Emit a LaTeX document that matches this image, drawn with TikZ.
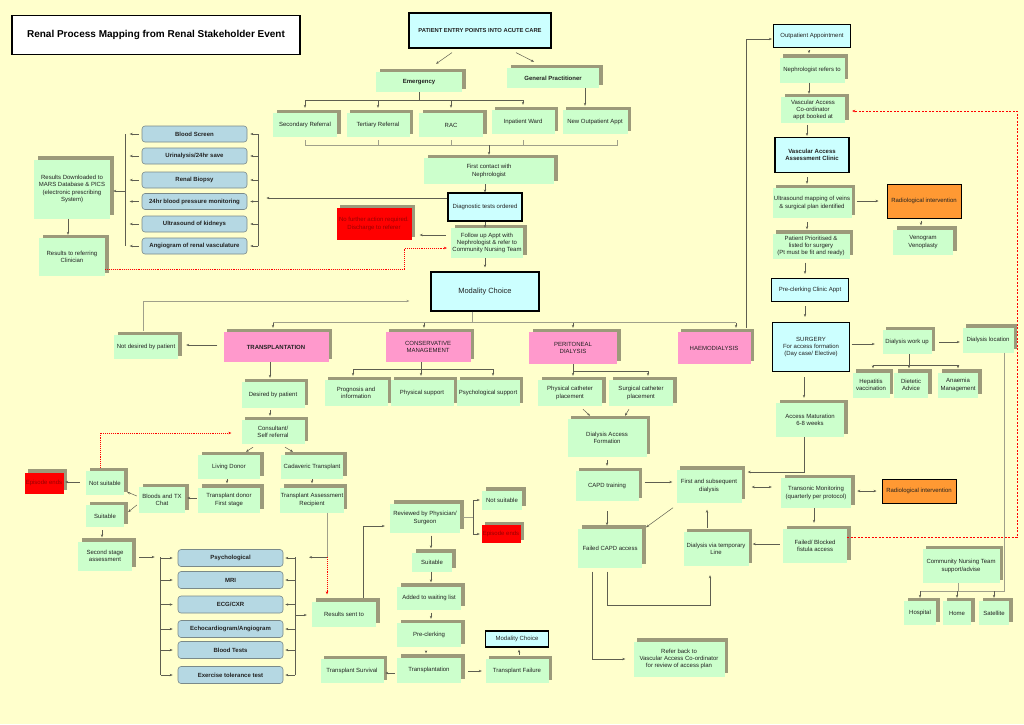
\documentclass[tikz,border=0pt]{standalone}
\usepackage{fontspec}
\setmainfont{Liberation Sans}
\usetikzlibrary{arrows.meta,shadows,calc}
\definecolor{bgc}{HTML}{FFFFCC}
\definecolor{grn}{HTML}{CCFFCC}
\definecolor{shd}{HTML}{9C9A7A}
\definecolor{cyb}{HTML}{CCFFFF}
\definecolor{pnk}{HTML}{FF99CC}
\definecolor{rdb}{HTML}{FF0000}
\definecolor{drd}{HTML}{990000}
\definecolor{org}{HTML}{FF9933}
\definecolor{tbf}{HTML}{B5D8E3}
\definecolor{tbd}{HTML}{7A8A8A}
\definecolor{lc}{HTML}{5E5E50}
\definecolor{lcl}{HTML}{A0A08A}
\definecolor{txc}{HTML}{222222}
\newcommand\fs{\fontsize{6}{7.2}\selectfont}
\newcommand\fsb{\fontsize{6}{7.2}\selectfont\bfseries}
\begin{document}
\begin{tikzpicture}[x=1pt,y=-1pt,
  wh/.style 2 args={minimum width=#1pt, minimum height=#2pt},
  base/.style={inner sep=0.5pt, align=center, font=\fs, text=txc},
  gbox/.style={base, fill=grn, general shadow={fill=shd, shadow xshift=3.5pt, shadow yshift=3.5pt}},
  pbox/.style={gbox, fill=pnk},
  rbox/.style={gbox, fill=rdb, text=drd},
  bbox/.style={base, fill=cyb, draw=black, line width=1.2pt},
  obox/.style={base, fill=org, draw=black, line width=1pt},
  tbox/.style={base, font=\fsb, fill=tbf, draw=tbd, line width=0.6pt, rounded corners=3pt, minimum width=105pt, minimum height=16pt},
  ln/.style={draw=lc, line width=0.5pt},
  lnl/.style={draw=lcl, line width=0.6pt},
  arr/.style={ln, -{Stealth[length=3pt,width=2.4pt]}},
  arrl/.style={lnl, -{Stealth[length=3pt,width=2.4pt]}},
  barr/.style={ln, {Stealth[length=3pt,width=2.4pt]}-{Stealth[length=3pt,width=2.4pt]}},
  reddot/.style={draw=red, line width=0.9pt, densely dotted, -{Stealth[length=3pt,width=2.6pt]}},
  reddash/.style={draw=red, line width=0.5pt, dash pattern=on 2pt off 1.5pt, -{Stealth[length=3pt,width=2.6pt]}}
]
\fill[bgc] (0,0) rectangle (1024,724);
\useasboundingbox (0,0) rectangle (1024,724);

% title
\node[base, fill=white, draw=black, line width=1.4pt, wh={288}{39}, font=\fontsize{10}{12}\selectfont\bfseries, text=black] (title) at (156,35) {Renal Process Mapping from Renal Stakeholder Event};

% top
\node[bbox, wh={142}{35}, font=\fontsize{5.8}{7}\selectfont\bfseries] (pep) at (480,30.5) {PATIENT ENTRY POINTS INTO ACUTE CARE};
\node[gbox, wh={86}{20}, font=\fsb] (emer) at (419,82) {Emergency};
\node[gbox, wh={92}{20}, font=\fsb] (gp) at (553,78) {General Practitioner};
\node[gbox, wh={64}{24}] (sec) at (305,125) {Secondary Referral};
\node[gbox, wh={63}{24}] (ter) at (378,125) {Tertiary Referral};
\node[gbox, wh={64}{24}] (rac) at (451,125) {RAC};
\node[gbox, wh={63}{24}] (inw) at (523,122) {Inpatient Ward};
\node[gbox, wh={65}{24}] (nop) at (595,122) {New Outpatient Appt};
\node[gbox, wh={130}{26}] (fc) at (489,171) {First contact with\\Nephrologist};
\node[bbox, wh={74}{28}] (diag) at (485,207) {Diagnostic tests ordered};
\node[gbox, wh={72}{30}] (fu) at (487,243) {Follow up Appt with\\Nephrologist \& refer to\\Community Nursing Team};
\node[rbox, wh={75}{32}] (nfa) at (374,224) {No further action required.\\Discharge to referer};
\node[bbox, wh={108}{39}, font=\fontsize{7.5}{9}\selectfont] (mod) at (485,291.5) {Modality Choice};

% left tests
\node[tbox] (bs) at (194.5,134) {Blood Screen};
\node[tbox] (uri) at (194.5,156) {Urinalysis/24hr save};
\node[tbox] (rbi) at (194.5,180) {Renal Biopsy};
\node[tbox] (bp) at (194.5,201.5) {24hr blood pressure monitoring};
\node[tbox] (usk) at (194.5,224) {Ultrasound of kidneys};
\node[tbox] (ang) at (194.5,246) {Angiogram of renal vasculature};
\node[gbox, wh={76}{59}] (rdm) at (72,189) {Results Downloaded to\\MARS Database \& PICS\\(electronic prescribing\\System)};
\node[gbox, wh={66}{38}] (rrc) at (72,257) {Results to referring\\Clinician};

% modality row
\node[pbox, wh={105}{30}, font=\fsb] (tx) at (276,347) {TRANSPLANTATION};
\node[gbox, wh={64}{24}] (ndp) at (146,347) {Not desired by patient};
\node[pbox, wh={85}{30}] (cons) at (428,347) {CONSERVATIVE\\MANAGEMENT};
\node[pbox, wh={88}{32}] (pd) at (573,348) {PERITONEAL\\DIALYSIS};
\node[pbox, wh={73}{32}] (hd) at (714,348) {HAEMODIALYSIS};
\node[gbox, wh={63}{26}] (prog) at (356,393) {Prognosis and\\information};
\node[gbox, wh={63}{26}] (phys) at (422,393) {Physical support};
\node[gbox, wh={63}{26}] (psys) at (488,393) {Psychological support};
\node[gbox, wh={64}{26}] (pcp) at (570,393) {Physical catheter\\placement};
\node[gbox, wh={64}{26}] (scp) at (641,393) {Surgical catheter\\placement};
\node[gbox, wh={79}{38}] (daf) at (607,438) {Dialysis Access\\Formation};
\node[gbox, wh={63}{30}] (capd) at (607,486) {CAPD training};
\node[gbox, wh={65}{33}] (first) at (709,486) {First and subsequent\\dialysis};
\node[gbox, wh={70}{30}] (trans) at (816,493) {Transonic Monitoring\\(quarterly per protocol)};
\node[obox, wh={74}{24}] (rad2) at (919,491) {Radiological intervention};
\node[gbox, wh={64}{34}] (fbf) at (815,546) {Failed/ Blocked\\fistula access};
\node[gbox, wh={65}{34}] (dvt) at (716,549) {Dialysis via temporary\\Line};
\node[gbox, wh={64}{39}] (fcapd) at (610,548) {Failed CAPD access};
\node[gbox, wh={91}{35}] (rb) at (679,659) {Refer back to\\Vascular Access Co-ordinator\\for review of access plan};

% right column
\node[bbox, wh={77}{23}] (opa) at (812,36) {Outpatient Appointment};
\node[gbox, wh={65}{25}] (nrt) at (812,70) {Nephrologist refers to};
\node[gbox, wh={64}{26}] (vac) at (813,110) {Vascular Access\\Co-ordinator\\appt booked at};
\node[bbox, wh={74}{35}, font=\fsb] (vaac) at (812,155) {Vascular Access\\Assessment Clinic};
\node[gbox, wh={79}{30}] (usm) at (812,203) {Ultrasound mapping of veins\\\& surgical plan identified};
\node[obox, wh={74}{34}] (rad1) at (924,201) {Radiological intervention};
\node[gbox, wh={60}{25}] (veno) at (923,242) {Venogram\\Venoplasty};
\node[gbox, wh={77}{25}] (pp) at (811,246) {Patient Prioritised \&\\listed for surgery\\(Pt must be fit and ready)};
\node[bbox, wh={77}{23}] (pcc) at (810,290) {Pre-clerking Clinic Appt};
\node[bbox, wh={77}{49}] (surg) at (811,347) {SURGERY\\For access formation\\(Day case/ Elective)};
\node[gbox, wh={49}{24}] (dwu) at (907,342) {Dialysis work up};
\node[gbox, wh={51}{25}] (dloc) at (988,340) {Dialysis location};
\node[gbox, wh={37}{25}] (hep) at (871,385) {Hepatitis\\vaccination};
\node[gbox, wh={34}{25}] (diet) at (911,385) {Dietetic\\Advice};
\node[gbox, wh={40}{25}] (anae) at (958,385) {Anaemia\\Management};
\node[gbox, wh={68}{34}] (am) at (810,420) {Access Maturation\\6-8 weeks};
\node[gbox, wh={77}{34}] (cnt) at (961,566) {Community Nursing Team\\support/advise};
\node[gbox, wh={32}{24}] (hosp) at (920,613) {Hospital};
\node[gbox, wh={28}{24}] (home) at (957,613) {Home};
\node[gbox, wh={30}{24}] (sat) at (994,613) {Satellite};

% transplant branch
\node[gbox, wh={63}{26}] (dp) at (273,395) {Desired by patient};
\node[gbox, wh={63}{24}] (csr) at (273,432) {Consultant/\\Self referral};
\node[gbox, wh={62}{24}] (ld) at (229,467) {Living Donor};
\node[gbox, wh={62}{24}] (cad) at (312,467) {Cadaveric Transplant};
\node[gbox, wh={62}{25}] (tdf) at (229,500) {Transplant donor\\First stage};
\node[gbox, wh={62}{25}] (tar) at (312,500) {Transplant Assessment\\Recipient};
\node[gbox, wh={46}{26}] (btx) at (162,500) {Bloods and TX\\Chat};
\node[gbox, wh={38}{24}] (ns1) at (105,483) {Not suitable};
\node[rbox, wh={39}{21}] (ee1) at (44,483) {Episode ends};
\node[gbox, wh={38}{22}] (suit1) at (105,516) {Suitable};
\node[gbox, wh={54}{29}] (ssa) at (105,556) {Second stage\\assessment};
\node[tbox, minimum height=17pt] (psy) at (230.5,558) {Psychological};
\node[tbox, minimum height=17pt] (mri) at (230.5,580) {MRI};
\node[tbox, minimum height=17pt] (ecg) at (230.5,604.5) {ECG/CXR};
\node[tbox, minimum height=17pt] (echo) at (230.5,629) {Echocardiogram/Angiogram};
\node[tbox, minimum height=17pt] (bt) at (230.5,650) {Blood Tests};
\node[tbox, minimum height=17pt] (ett) at (230.5,675) {Exercise tolerance test};
\node[gbox, wh={64}{25}] (rst) at (344,614) {Results sent to};
\node[gbox, wh={70}{29}] (rev) at (425,518) {Reviewed by Physician/\\Surgeon};
\node[gbox, wh={40}{19}] (ns2) at (502,500) {Not suitable};
\node[rbox, wh={39}{18}] (ee2) at (501,534) {Episode ends};
\node[gbox, wh={40}{19}] (suit2) at (432,562) {Suitable};
\node[gbox, wh={64}{23}] (awl) at (429,598) {Added to waiting list};
\node[gbox, wh={64}{24}] (pcl) at (429,635) {Pre-clerking};
\node[gbox, wh={64}{25}] (tpl) at (429,670) {Transplantation};
\node[gbox, wh={63}{24}] (tsv) at (352,671) {Transplant Survival};
\node[gbox, wh={63}{24}] (tfl) at (517,671) {Transplant Failure};
\node[bbox, wh={63}{16}] (mod2) at (517,639) {Modality Choice};

% ---------------- connectors ----------------
\draw[arr] ($(pep.south)+(-28,4)$) -- ($(emer.north)+(17,-8)$);
\draw[arr] ($(pep.south)+(36,4)$) -- ($(gp.north)+(-19,-6)$);
\coordinate (eb) at ($(emer.south)+(0,8)$);
\draw[ln] (emer.south) -- (eb);
\draw[ln] (eb -| sec.north) -- (eb -| inw.north);
\foreach \n in {sec,ter,rac,inw} \draw[arr, shorten >=5pt] (eb -| \n.north) -- (\n.north);
\draw[arr] ($(gp.south)+(32,0)$) -- ($(nop.north)+(-10,-4)$);
\coordinate (rbr) at ($(sec.south)+(0,8)$);
\draw[lnl] ($(sec.south)+(0,3)$) -- (rbr) -- ($(rbr -| nop.south)+(22,0)$) -- ++(0,-5);
\foreach \n in {ter,rac,inw} \draw[lnl] (rbr -| \n.south) -- ++(0,-5);
\draw[arr] (rbr -| fc.north) -- ($(fc.north)+(0,-3)$);
\draw[arr] (fc.south -| diag.north) -- (diag.north);
\draw[arr] ($(diag.west)+(0,-9)$) -- ++(-181,0);
\draw[ln] ($(bs.east)+(11,0)$) -- ($(ang.east)+(11,0)$);
\foreach \n in {bs,uri,rbi,bp,usk,ang} \draw[arr] ($(\n.east)+(11,0)$) -- ($(\n.east)+(3,0)$);
\draw[ln] ($(bs.west)+(-16,0)$) -- ($(ang.west)+(-16,0)$);
\foreach \n in {bs,uri,rbi,bp,usk,ang} \draw[arr] ($(\n.west)+(-3,0)$) -- ($(\n.west)+(-12,0)$);
\draw[arr] ($(rdm.east)+(16,2)$) -- ($(rdm.east)+(3,2)$);
\draw[arr] ($(rdm.south)+(-4,0)$) -- ($(rrc.north)+(-4,-3)$);
\draw[reddot] ($(rrc.east)+(0,12)$) -| ($(fu.west)+(-46,5)$) -- ($(fu.west)+(-4,5)$);
\draw[arr] ($(fu.west)+(-5,-8)$) -- ($(nfa.east)+(8,11)$);
\draw[arr] (diag.south) -- (diag.south |- fu.north);
\draw[arr] (mod.north |- fu.south) -- ($(mod.north)+(0,-4)$);

% modality bar
\coordinate (mb) at ($(mod.south)+(-13,11)$);
\draw[lnl] ($(mod.south)+(-13,0)$) -- (mb);
\draw[lnl] ($(mb -| tx.north)+(-3,0)$) -- ($(mb -| hd.north)+(22,0)$);
\draw[arr] ($(mb -| tx.north)+(-3,0)$) -- ($(tx.north)+(-3,-4)$);
\draw[arr] ($(mb -| cons.north)+(-4,0)$) -- ($(cons.north)+(-4,-4)$);
\draw[arr] (mb -| pd.north) -- ($(pd.north)+(0,-4)$);
\draw[arr] ($(mb -| hd.north)+(22,0)$) -- ($(hd.north)+(22,-4)$);
\draw[arr] ($(hd.north)+(32,-4)$) |- ($(opa.west)+(-1,3)$);
\draw[arrl] ($(ndp.north)+(-3,-4)$) |- ($(mod.west)+(-21,9.5)$);
\draw[arr] ($(tx.west)+(-6,-2)$) -- ($(ndp.east)+(8,-2)$);

\coordinate (cb) at ($(cons.south)+(-7,7)$);
\draw[ln] ($(cons.south)+(-7,0)$) -- (cb);
\draw[ln] ($(cb -| prog.north)+(-3,0)$) -- ($(cb -| psys.north)+(5,0)$);
\draw[arr] ($(cb -| prog.north)+(-3,0)$) -- ($(prog.north)+(-3,-4)$);
\draw[arr] (cb) -- ($(phys.north)+(-1,-4)$);
\draw[arr] ($(cb -| psys.north)+(5,0)$) -- ($(psys.north)+(5,-4)$);

\coordinate (pb) at ($(pd.south)+(0,7)$);
\draw[ln] (pd.south) -- (pb) -- ($(pb -| scp.north)+(7,0)$);
\draw[arr] (pb) -- ($(pcp.north)+(3,-4)$);
\draw[arr] ($(pb -| scp.north)+(7,0)$) -- ($(scp.north)+(7,-4)$);
\draw[arr] ($(pcp.south)+(13,3)$) -- ($(daf.north)+(-17,-3)$);
\draw[arr] ($(scp.south)+(-12,3)$) -- ($(daf.north)+(18,-3)$);
\draw[arr, shorten <=3pt, shorten >=5pt] (daf.south) -- (capd.north);
\draw[arr] ($(capd.east)+(6,-4)$) -- ($(first.west)+(-4,-4)$);
\draw[arr] ($(am.south)+(-6,0)$) |- ($(first.east)+(6,-14)$);
\draw[barr] ($(first.east)+(10,1)$) -- ($(trans.west)+(-9,-6)$);
\draw[barr] ($(trans.east)+(6,-2)$) -- ($(rad2.west)+(-5,0)$);
\draw[arr] ($(trans.south)+(-2,0)$) -- ($(fbf.north)+(-1,-6)$);
\draw[reddash] ($(fbf.east)+(0,-9)$) -- ++(170,0) |- ($(vac.east)+(7,1)$);
\draw[arr] ($(fbf.west)+(-3,-2)$) -- ($(dvt.east)+(4,-5)$);
\draw[arr] ($(dvt.north)+(-9,-4)$) -- ($(first.south)+(-2,7)$);
\draw[arr] ($(first.south)+(-36,5)$) -- ($(fcapd.north)+(36,-1)$);
\draw[arr] ($(capd.south)+(0,10)$) -- ($(fcapd.north)+(-3,-3)$);
\draw[arr] ($(fcapd.south)+(-3,4)$) -- ++(0,33.5) -| ($(dvt.south)+(-6,9)$);
\draw[arr] ($(fcapd.south)+(-18,4)$) |- ($(rb.west)+(-8,0)$);

% right column
\draw[arr] ($(opa.south)+(-3,2)$) -- ($(nrt.north)+(-3,-4)$);
\draw[arr] ($(nrt.south)+(-3,0)$) -- ($(vac.north)+(-4,-3)$);
\draw[arr] ($(vac.south)+(-6,2)$) -- ($(vaac.north)+(-5,-1)$);
\draw[arr] ($(vaac.south)+(-5,4)$) -- ($(usm.north)+(-5,-4)$);
\draw[arr] ($(usm.east)+(5,-2)$) -- ($(rad1.west)+(-8,0)$);
\draw[arr] ($(rad1.south)+(-3,2)$) -- ($(veno.north)+(-2,-4)$);
\draw[arr] ($(usm.south)+(-5,4)$) -- ($(pp.north)+(-4,-4)$);
\draw[arr] ($(pp.south)+(-6,4)$) -- ($(pcc.north)+(-5,-4)$);
\draw[arr] ($(pcc.south)+(-5,4)$) -- ($(surg.north)+(-6,-5)$);
\draw[arr] ($(surg.east)+(1.5,-3)$) -- ($(dwu.west)+(-7.5,2)$);
\draw[arr] ($(dwu.east)+(7.5,0)$) -- ($(dloc.west)+(-2.5,2)$);
\coordinate (db) at ($(dwu.south)+(2,11)$);
\draw[ln] ($(dwu.south)+(2,0)$) -- (db);
\draw[ln] ($(db -| hep.north)+(2,0)$) -- (db -| anae.north);
\draw[arr] ($(db -| hep.north)+(2,0)$) -- ($(hep.north)+(2,-4)$);
\draw[arr] (db) -- ($(diet.north)+(-2,-4)$);
\draw[arr] (db -| anae.north) -- ($(anae.north)+(0,-4)$);
\draw[arr] ($(surg.south)+(-7,5)$) -- ($(am.north)+(-6,-5)$);
\coordinate (cbar) at ($(cnt.south)+(-3,8)$);
\draw[lnl] ($(dloc.south)+(16,0)$) |- (cbar -| hosp.north);
\draw[lnl] ($(cnt.south)+(-3,0)$) -- (cbar);
\foreach \n in {hosp,home,sat} \draw[arr] (cbar -| \n.north) -- ($(\n.north)+(0,-3)$);

% transplant branch
\draw[arr] ($(tx.south)+(-6,0)$) -- ($(dp.north)+(-3,-4)$);
\draw[arr] ($(dp.south)+(-3,2)$) -- ($(csr.north)+(-3,-4)$);
\draw[arr] ($(csr.south)+(-20,3)$) -- ($(ld.north)+(17,-3)$);
\draw[arr] ($(csr.south)+(12,3)$) -- ($(cad.north)+(-19,-3)$);
\draw[arr] ($(ld.south)+(-2,0)$) -- ($(tdf.north)+(-2,-4)$);
\draw[arr] (cad.south) -- ($(tar.north)+(0,-4)$);
\draw[arr] ($(tdf.west)+(-1,-2)$) -- ($(btx.east)+(2,-2)$);
\draw[arr] ($(btx.west)+(-2,-4)$) -- ($(ns1.east)+(3,9)$);
\draw[arr] ($(btx.west)+(-2,5)$) -- ($(suit1.east)+(4,-4)$);
\draw[arr] ($(ns1.west)+(-6,-1)$) -- ($(ee1.east)+(1.5,-1)$);
\draw[reddot] ($(ns1.north)+(-5,-3)$) |- ($(csr.west)+(-10,1)$);
\draw[arr] ($(suit1.south)+(-3,3)$) -- ($(ssa.north)+(-3,-4)$);
\draw[arr] ($(ssa.east)+(7,1)$) -- ($(psy.west)+(-23,-1)$);
\draw[ln] ($(psy.west)+(-17,-1)$) -- ($(ett.west)+(-17,0)$);
\foreach \n in {psy,mri,ecg,echo,bt,ett} \draw[arr] ($(\n.west)+(-17,0)$) -- ($(\n.west)+(-5,0)$);
\draw[ln] ($(psy.east)+(12,-1)$) -- ($(ett.east)+(12,0)$);
\foreach \n in {psy,mri,ecg,echo,bt,ett} \draw[arr] ($(\n.east)+(12,0)$) -- ($(\n.east)+(2,0)$);
\coordinate (tj) at ($(tar.south)+(15,44.5)$);
\draw[lnl] ($(tar.south)+(15,0)$) -- (tj);
\draw[arr] (tj) -- ++(-18,0);
\draw[reddot] (tj) -- ($(rst.north)+(-17,-7)$);
\draw[arr] ($(rst.west)+(-17,1)$) -- ($(rst.west)+(-5,1)$);
\draw[arr] ($(rst.north)+(19,-3)$) |- ($(rev.west)+(-5,8)$);
\coordinate (rj) at ($(rev.east)+(13,-1)$);
\draw[lnl] ($(rev.east)+(3,-1)$) -- (rj);
\draw[arr] (rj) |- ($(ns2.west)+(-2,0)$);
\draw[arr] (rj) |- ($(ee2.west)+(-1.5,0)$);
\draw[arr] ($(rev.south)+(6,3)$) -- ($(suit2.north)+(-1,-4)$);
\draw[arr] ($(suit2.south)+(-1,0)$) -- ($(awl.north)+(2,-4)$);
\draw[arr] ($(awl.south)+(2,3)$) -- ($(pcl.north)+(2,-4)$);
\draw[arr] ($(pcl.south)+(-3,4)$) -- ($(tpl.north)+(-3,-4)$);
\draw[arr] ($(tpl.west)+(-2,3)$) -- ($(tsv.east)+(1.5,2)$);
\draw[arr] ($(tpl.east)+(7,1)$) -- ($(tfl.west)+(-3.5,0)$);
\draw[arr] ($(tfl.north)+(2,-4)$) -- ($(mod2.south)+(2,2)$);
\end{tikzpicture}
\end{document}
